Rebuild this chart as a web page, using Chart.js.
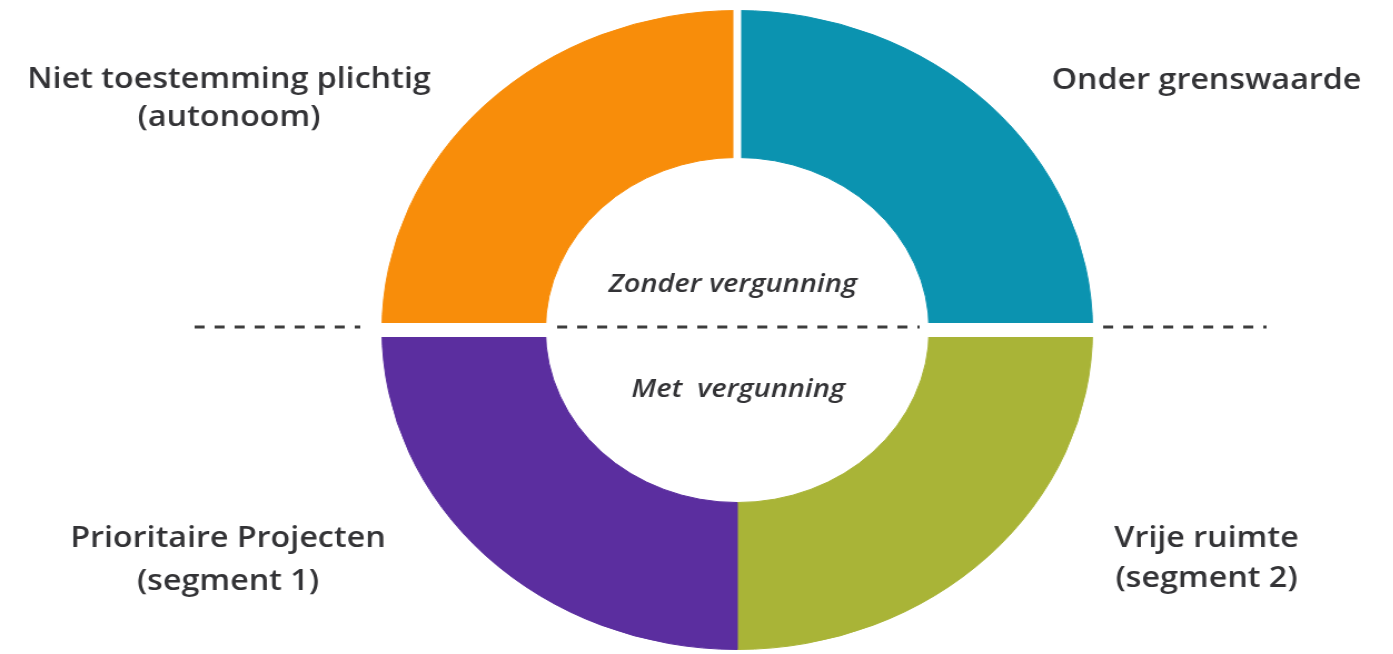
<!DOCTYPE HTML>
<html lang="nl">
	<head>
		<title>Vergunning segmenten</title>
		<meta charset="utf-8" />
		<script src="https://cdn.jsdelivr.net/npm/chart.js@4.4.0/dist/chart.umd.min.js"></script>
		<style>
			html, body { margin: 0; padding: 0; background: #ffffff; overflow: hidden; }
			/* the original picture is stretched sideways, so the whole canvas is too */
			#wrap { width: 1253px; height: 654px; transform: scaleX(1.112); transform-origin: 0 0; }
		</style>
	</head>
	<body>
		<div id="wrap"><canvas id="ringChart" width="1253" height="654"></canvas></div>

		<script>
			// Data: four equal quarters, clockwise from the top
			const categories = [
				['Onder grenswaarde'],
				['Vrije ruimte', '(segment 2)'],
				['Prioritaire Projecten', '(segment 1)'],
				['Niet toestemming plichtig', '(autonoom)']
			];
			const shares = [25, 25, 25, 25];
			const colors = ['#0B93B0', '#A9B437', '#5B2E9F', '#F88D0A'];
			const centerLabels = ['Zonder vergunning', 'Met  vergunning'];

			// Layout, relative to the ring centre
			const labelSpots = [
				{ dx: 422, dy: [-241] },
				{ dx: 422, dy: [217, 257] },
				{ dx: -458, dy: [217, 260] },
				{ dx: -457, dy: [-242, -204] }
			];
			const centerSpots = [{ dx: -4, dy: -38 }, { dx: 1, dy: 67 }];
			const dashRuns = [[-488, -339], [-162, 164], [329, 476]];

			const ringDecor = {
				id: 'ringDecor',
				afterDatasetsDraw(chart) {
					const ctx = chart.ctx;
					const arc = chart.getDatasetMeta(0).data[0];
					const cx = arc.x, cy = arc.y, R = arc.outerRadius;
					ctx.save();

					// white gaps between the quarters
					ctx.fillStyle = '#ffffff';
					ctx.fillRect(cx - 3.5, cy - R - 2, 7, R + 2);
					ctx.fillRect(cx - R - 2, cy - 7, 2 * R + 4, 14);

					// dashed divider
					ctx.strokeStyle = '#3d3d3d';
					ctx.lineWidth = 3;
					ctx.setLineDash([9, 9]);
					dashRuns.forEach(([a, b]) => {
						ctx.beginPath();
						ctx.moveTo(cx + a, cy - 3);
						ctx.lineTo(cx + b, cy - 3);
						ctx.stroke();
					});
					ctx.setLineDash([]);

					// outer labels
					ctx.fillStyle = '#333336';
					ctx.textAlign = 'center';
					ctx.textBaseline = 'alphabetic';
					ctx.font = '600 29px "Open Sans"';
					ctx.letterSpacing = '0px';
					categories.forEach((lines, i) => {
						lines.forEach((line, j) => {
							ctx.fillText(line, cx + labelSpots[i].dx, cy + labelSpots[i].dy[j]);
						});
					});

					// centre labels
					ctx.font = 'italic 600 26px "Open Sans"';
					centerLabels.forEach((t, i) => {
						ctx.fillText(t, cx + centerSpots[i].dx, cy + centerSpots[i].dy);
					});
					ctx.restore();
				}
			};

			new Chart(document.getElementById('ringChart'), {
				type: 'doughnut',
				data: {
					labels: categories.map(l => l.join(' ')),
					datasets: [{
						data: shares,
						backgroundColor: colors,
						borderColor: colors,
						borderWidth: 1
					}]
				},
				options: {
					responsive: false,
					devicePixelRatio: 1,
					animation: false,
					events: [],
					cutout: '54%',
					layout: { padding: { top: 10, bottom: 4, left: 100, right: 27 } },
					plugins: {
						legend: { display: false },
						tooltip: { enabled: false }
					}
				},
				plugins: [ringDecor]
			});
		</script>
	</body>
</html>
